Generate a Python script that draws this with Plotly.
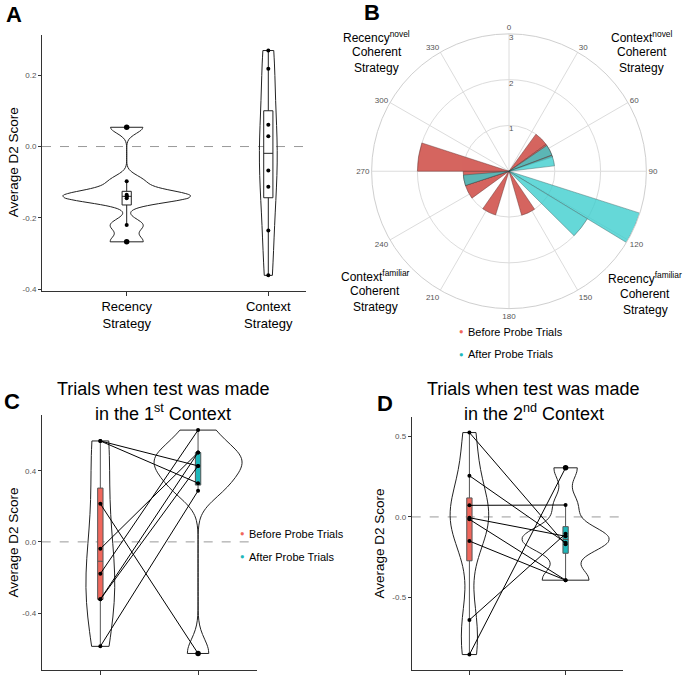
import numpy as np
import plotly.graph_objects as go

# ---------------- data ----------------
# Panel A
strategy_labels = ["Recency<br>Strategy", "Context<br>Strategy"]
recency_scores = [0.054, -0.097, -0.135, -0.139, -0.140, -0.145, -0.220, -0.267]
context_scores = [0.269, 0.218, 0.061, 0.029, -0.067, -0.113, -0.235, -0.361]

# Panel B (polar histogram)
angle_ticks = [0, 30, 60, 90, 120, 150, 180, 210, 240, 270, 300, 330]
radial_ticks = [1, 2, 3]
before_theta = [45, 63, 155, 206, 243, 261, 279]
before_count = [1, 1, 1, 1, 1, 1, 2]
after_theta = [62.5, 76.5, 114.5, 128, 258.5]
after_count = [1, 1, 3, 2, 1]

# Panel C (test in 1st context), paired subjects
phase_labels = ["Before Probe Trials", "After Probe Trials"]
c_before = [0.567, 0.567, 0.214, -0.039, -0.179, -0.323, -0.323, -0.587]
c_after = [0.427, 0.330, -0.627, 0.502, 0.628, 0.502, 0.427, 0.287]

# Panel D (test in 2nd context), paired subjects
d_before = [0.524, 0.256, 0.072, -0.005, -0.015, -0.150, -0.640, -0.855]
d_after = [-0.170, -0.160, 0.074, -0.120, -0.393, -0.393, -0.105, 0.305]

# ---------------- helpers ----------------
W, H = 685, 679
FONT = "Liberation Sans, Arial, Helvetica, sans-serif"
RED = "#F0675C"
CYAN = "#1DB7BA"


def px(x):
    return x / W


def py(y):
    return 1 - y / H


def nrd0(v):
    v = np.asarray(v, dtype=float)
    sd = v.std(ddof=1)
    q75, q25 = np.percentile(v, [75, 25])
    lo = min(sd, (q75 - q25) / 1.34)
    if lo <= 0:
        lo = sd
    return 0.9 * lo * len(v) ** -0.2


def kde_max(v):
    v = np.asarray(v, dtype=float)
    bw = nrd0(v)
    grid = np.linspace(v.min(), v.max(), 512)
    dens = np.exp(-0.5 * ((grid[:, None] - v[None, :]) / bw) ** 2).sum(axis=1)
    dens /= len(v) * bw * np.sqrt(2 * np.pi)
    return dens.max()


def box_stats(v):
    v = np.asarray(v, dtype=float)
    q1, med, q3 = np.percentile(v, [25, 50, 75])
    iqr = q3 - q1
    lo, hi = q1 - 1.5 * iqr, q3 + 1.5 * iqr
    lf = v[v >= lo].min()
    uf = v[v <= hi].max()
    out = v[(v < lo) | (v > hi)]
    inl = v[(v >= lo) & (v <= hi)]
    return q1, med, q3, lf, uf, out, inl


fig = go.Figure()


def add_violins(cats, groups, xa, ya, box_fills, box_w, box_line):
    # ggplot-like "area" scaling: widest density of the panel gets width 0.9
    maxes = [kde_max(v) for v in groups]
    top = max(maxes)
    for i, (cat, vals) in enumerate(zip(cats, groups)):
        fig.add_trace(go.Violin(
            x=[cat] * len(vals), y=vals, xaxis=xa, yaxis=ya,
            width=0.9 * maxes[i] / top, scalegroup=f"{xa}_{i}", scalemode="width",
            spanmode="hard", bandwidth=nrd0(vals), line=dict(color="#222", width=1),
            fillcolor="rgba(0,0,0,0)", points=False, box_visible=False,
            meanline_visible=False, showlegend=False, hoverinfo="skip"))
    for i, (cat, vals) in enumerate(zip(cats, groups)):
        q1, med, q3, lf, uf, out, inl = box_stats(vals)
        fig.add_trace(go.Box(
            x=[cat], q1=[q1], median=[med], q3=[q3], lowerfence=[lf], upperfence=[uf],
            xaxis=xa, yaxis=ya, width=box_w, whiskerwidth=0, fillcolor=box_fills[i],
            line=dict(color=box_line, width=1), boxpoints=False, showlegend=False,
            hoverinfo="skip"))


def add_points(cat, vals, xa, ya):
    q1, med, q3, lf, uf, out, inl = box_stats(vals)
    fig.add_trace(go.Scatter(x=[cat] * len(inl), y=inl, xaxis=xa, yaxis=ya, mode="markers",
                             marker=dict(color="black", size=4), showlegend=False,
                             hoverinfo="skip"))
    if len(out):
        fig.add_trace(go.Scatter(x=[cat] * len(out), y=out, xaxis=xa, yaxis=ya,
                                 mode="markers", marker=dict(color="black", size=5.5),
                                 showlegend=False, hoverinfo="skip"))


# ---------------- Panel A ----------------
add_violins(strategy_labels, [recency_scores, context_scores], "x", "y",
            ["white", "white"], 0.065, "#222")
for cat, vals in zip(strategy_labels, [recency_scores, context_scores]):
    add_points(cat, vals, "x", "y")

# ---------------- Panel C / D ----------------
for (bef, aft, xa, ya) in [(c_before, c_after, "x2", "y2"),
                           (d_before, d_after, "x3", "y3")]:
    add_violins(phase_labels, [bef, aft], xa, ya, [RED, CYAN], 0.055, "#555")
    lx, ly = [], []
    for b, a in zip(bef, aft):
        lx += [phase_labels[0], phase_labels[1], None]
        ly += [b, a, None]
    fig.add_trace(go.Scatter(x=lx, y=ly, xaxis=xa, yaxis=ya, mode="lines",
                             line=dict(color="black", width=1), showlegend=False,
                             hoverinfo="skip"))
    add_points(phase_labels[0], bef, xa, ya)
    add_points(phase_labels[1], aft, xa, ya)

# ---------------- Panel B ----------------
fig.add_trace(go.Barpolar(
    r=before_count, theta=before_theta, width=18, subplot="polar",
    marker=dict(color="#D5655F", line=dict(color="rgba(90,40,40,0.7)", width=0.6)),
    showlegend=False, hoverinfo="skip"))
fig.add_trace(go.Barpolar(
    r=after_count, theta=after_theta, width=13.5, subplot="polar", opacity=0.78,
    marker=dict(color="#3ACDCD", line=dict(color="rgba(20,70,70,0.8)", width=0.6)),
    showlegend=False, hoverinfo="skip"))
# radial tick labels, just right of the 0-degree spoke
fig.add_trace(go.Scatterpolar(
    r=radial_ticks, theta=[0] * len(radial_ticks), mode="text",
    text=[str(t) for t in radial_ticks], textposition="bottom right",
    textfont=dict(size=8, color="#555", family=FONT), subplot="polar",
    showlegend=False, hoverinfo="skip"))

# ---------------- layout ----------------
axis_common = dict(showline=True, linecolor="#333", linewidth=1, ticks="outside",
                   tickcolor="#333", showgrid=False, zeroline=False)
ytick_font = dict(size=8, color="#555", family=FONT)


def yt(vals):
    return [("-" if v < 0 else "") + f"{abs(v):.1f}" for v in vals]


ya_ticks = [-0.4, -0.2, 0.0, 0.2]
yc_ticks = [-0.4, 0.0, 0.4]
yd_ticks = [-0.5, 0.0, 0.5]

fig.update_layout(
    width=W, height=H, margin=dict(l=0, r=0, t=0, b=0),
    paper_bgcolor="white", plot_bgcolor="white",
    font=dict(family=FONT, color="black"),
    violinmode="overlay", boxmode="overlay", showlegend=False,
    xaxis=dict(domain=[px(42), px(305.7)], anchor="y", type="category",
               categoryorder="array", categoryarray=strategy_labels,
               range=[-0.598, 1.264], ticklen=4,
               tickfont=dict(size=13, color="black", family=FONT), **axis_common),
    yaxis=dict(domain=[py(292), py(35)], anchor="x", range=[-0.404, 0.313],
               tickvals=ya_ticks, ticktext=yt(ya_ticks), ticklen=3,
               tickfont=ytick_font, **axis_common),
    xaxis2=dict(domain=[px(41.7), px(256.7)], anchor="y2", type="category",
                categoryorder="array", categoryarray=phase_labels,
                range=[-0.6, 1.6], ticklen=4, showticklabels=False, **axis_common),
    yaxis2=dict(domain=[py(673), py(417)], anchor="x2", range=[-0.72, 0.712],
                tickvals=yc_ticks, ticktext=yt(yc_ticks), ticklen=3,
                tickfont=ytick_font, **axis_common),
    xaxis3=dict(domain=[px(411.7), px(623.3)], anchor="y3", type="category",
                categoryorder="array", categoryarray=phase_labels,
                range=[-0.6, 1.6], ticklen=4, showticklabels=False, **axis_common),
    yaxis3=dict(domain=[py(673.3), py(419.3)], anchor="x3", range=[-0.953, 0.618],
                tickvals=yd_ticks, ticktext=yt(yd_ticks), ticklen=3,
                tickfont=ytick_font, **axis_common),
    polar=dict(
        domain=dict(x=[px(371), px(647)], y=[py(310), py(34)]),
        bgcolor="white",
        angularaxis=dict(rotation=90, direction="clockwise", tickmode="array",
                         tickvals=angle_ticks, ticktext=[str(a) for a in angle_ticks],
                         tickfont=dict(size=8, color="#555", family=FONT),
                         gridcolor="#dcdcdc", linecolor="#cfcfcf", showline=True,
                         ticks=""),
        radialaxis=dict(range=[0, 3], tickmode="array", tickvals=radial_ticks,
                        showticklabels=False, gridcolor="#dcdcdc", showline=False,
                        ticks="", angle=90),
    ),
)

# zero reference lines
for xr, yr in [("x domain", "y"), ("x2 domain", "y2"), ("x3 domain", "y3")]:
    fig.add_shape(type="line", xref=xr, yref=yr, x0=0, x1=1, y0=0, y1=0,
                  line=dict(color="#999", width=1, dash="dash"), layer="below")

ann = []


def text(x, y, t, size, xanchor="center", angle=0, color="black"):
    ann.append(dict(x=px(x), y=py(y), xref="paper", yref="paper", text=t,
                    showarrow=False, xanchor=xanchor, yanchor="middle",
                    textangle=angle, font=dict(size=size, color=color, family=FONT)))


# panel letters
text(13.5, 15, "<b>A</b>", 22)
text(372, 13, "<b>B</b>", 22)
text(12, 403, "<b>C</b>", 22)
text(385, 405, "<b>D</b>", 22)

# y titles
text(13, 163, "Average D2 Score", 13.5, angle=-90)
text(14, 545, "Average D2 Score", 13.5, angle=-90)
text(380, 546, "Average D2 Score", 13.5, angle=-90)

# titles C / D
text(163, 390.5, "Trials when test was made", 18)
text(163, 414, "in the 1<sup>st</sup> Context", 18)
text(533, 390.5, "Trials when test was made", 18)
text(534, 414, "in the 2<sup>nd</sup> Context", 18)

# polar quadrant labels
for cx, ys, lines in [
    (376.7, [37, 52.5, 68], ["Recency<sup>novel</sup>", "Coherent", "Strategy"]),
    (641.7, [37, 52.5, 68], ["Context<sup>novel</sup>", "Coherent", "Strategy"]),
    (375, [277, 292.5, 308], ["Context<sup>familiar</sup>", "Coherent", "Strategy"]),
    (645, [279, 295, 311], ["Recency<sup>familiar</sup>", "Coherent", "Strategy"]),
]:
    for yy, ln in zip(ys, lines):
        text(cx, yy, ln, 12)

# legends (B and C)
for bx, by in [(461.7, 333), (243, 536)]:
    text(bx, by, "●", 7.5, color=RED)
    text(bx + 4, by, phase_labels[0], 11, xanchor="left")
    text(bx, by + 23, "●", 7.5, color=CYAN)
    text(bx + 4, by + 23, phase_labels[1], 11, xanchor="left")

fig.update_layout(annotations=ann)
fig.write_html("out.html", config={"displayModeBar": False},
               post_script="document.body.style.margin='0';"
                           "document.body.style.overflow='hidden';")
